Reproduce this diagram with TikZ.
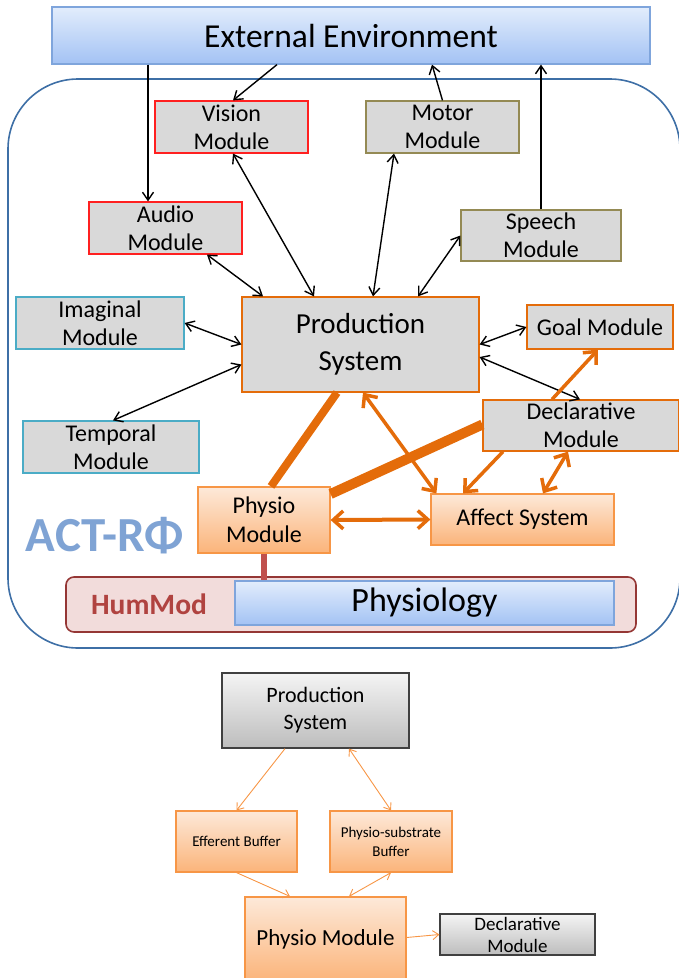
\documentclass[tikz,border=0pt]{standalone}
\usepackage{fontspec}
\setmainfont{Carlito}
\usetikzlibrary{arrows.meta,calc,shadows}
\definecolor{greyfill}{HTML}{D9D9D9}
\definecolor{redb}{HTML}{FF2020}
\definecolor{oliveb}{HTML}{948A54}
\definecolor{cyanb}{HTML}{4BACC6}
\definecolor{orangeb}{HTML}{E46C0A}
\definecolor{lorange}{HTML}{F79646}
\definecolor{peachtop}{HTML}{FDE9D9}
\definecolor{peachbot}{HTML}{FBB47A}
\definecolor{bluetop}{HTML}{E2EDFC}
\definecolor{bluebot}{HTML}{A3C2F4}
\definecolor{blueb}{HTML}{7FA5DC}
\definecolor{frameb}{HTML}{3E6FA6}
\definecolor{humfill}{HTML}{F2DCDB}
\definecolor{humb}{HTML}{953735}
\definecolor{humtext}{HTML}{B04340}
\definecolor{linkred}{HTML}{C0504D}
\definecolor{actblue}{HTML}{7FA3D4}
\definecolor{greytop}{HTML}{F4F4F4}
\definecolor{greybot}{HTML}{BDBDBD}
\definecolor{darkgreyb}{HTML}{404040}
\tikzset{
  box/.style={draw, line width=1.2pt, fill=greyfill, inner sep=0pt, align=center,
    font=\fontsize{24}{28}\selectfont, text=black,
    drop shadow={opacity=0.25, shadow xshift=1.2pt, shadow yshift=-1.2pt}},
  redbox/.style={box, draw=redb},
  olivebox/.style={box, draw=oliveb},
  cyanbox/.style={box, draw=cyanb},
  orbox/.style={box, draw=orangeb},
  peachbox/.style={box, draw=lorange, top color=peachtop, bottom color=peachbot},
  bluebox/.style={box, draw=blueb, top color=bluetop, bottom color=bluebot},
  gradgrey/.style={box, draw=darkgreyb, top color=greytop, bottom color=greybot},
  arr/.style={draw=black, line width=1.4pt, -{Straight Barb[length=8pt,width=11pt,line width=1.4pt]}},
  darr/.style={draw=black, line width=1.4pt, {Straight Barb[length=8pt,width=11pt,line width=1.4pt]}-{Straight Barb[length=8pt,width=11pt,line width=1.4pt]}},
  oarr/.style={draw=orangeb, line width=4pt, -{Straight Barb[length=10pt,width=18pt,line width=3.5pt]}},
  odarr/.style={draw=orangeb, line width=4pt, {Straight Barb[length=10pt,width=18pt,line width=3.5pt]}-{Straight Barb[length=10pt,width=18pt,line width=3.5pt]}},
  othick/.style={draw=orangeb, line width=#1},
  larr/.style={draw=lorange, line width=0.9pt, -{Straight Barb[length=6pt,width=9pt,line width=0.9pt]}},
  ldarr/.style={draw=lorange, line width=0.9pt, {Straight Barb[length=6pt,width=9pt,line width=0.9pt]}-{Straight Barb[length=6pt,width=9pt,line width=0.9pt]}},
}
\begin{document}
\begin{tikzpicture}[x=1pt,y=-1pt]
\useasboundingbox (0,0) rectangle (679,978);
\begin{scope}
\clip (0,0) rectangle (679,978);
% big frame
\node[draw=frameb, line width=1.6pt, rounded corners=70pt, minimum width=672pt, minimum height=569pt, inner sep=0pt] (frame) at (344,363.5) {};
% external environment
\node[bluebox, minimum width=598pt, minimum height=57pt, font=\fontsize{33.5}{38}\selectfont] (ext) at (351,35.5) {External Environment};
% modules
\node[redbox, minimum width=153pt, minimum height=52pt] (vision) at (231.5,127) {Vision\\Module};
\node[olivebox, minimum width=153pt, minimum height=52pt] (motor) at (442.5,127) {Motor\\Module};
\node[redbox, minimum width=153pt, minimum height=52pt] (audio) at (165.5,228) {Audio\\Module};
\node[olivebox, minimum width=160pt, minimum height=51pt] (speech) at (541,235.5) {Speech\\Module};
\node[orbox, minimum width=237pt, minimum height=95pt, font=\fontsize{29}{37}\selectfont] (prod) at (360.5,344.5) {Production\\System};
\node[cyanbox, minimum width=168pt, minimum height=52pt] (imag) at (100,323) {Imaginal\\Module};
\node[cyanbox, minimum width=176pt, minimum height=52pt] (temp) at (111,447) {Temporal\\Module};
\node[orbox, minimum width=146pt, minimum height=44pt] (goal) at (600,327) {Goal Module};
\node[orbox, minimum width=196pt, minimum height=51pt] (decl) at (581,425.5) {Declarative\\Module};
\node[peachbox, minimum width=132pt, minimum height=66pt, font=\fontsize{24}{29}\selectfont] (physio) at (264,520) {Physio\\Module};
\node[peachbox, minimum width=183pt, minimum height=51pt] (affect) at (522.5,519.5) {Affect System};
% HumMod
\node[draw=humb, fill=humfill, line width=1.6pt, rounded corners=8pt, minimum width=570pt, minimum height=55pt, inner sep=0pt] (hummod) at (351,604.5) {};
\node[bluebox, minimum width=379pt, minimum height=44pt, font=\fontsize{34}{38}\selectfont] (physiology) at (424.5,603) {Physiology};
\node[text=humtext, font=\bfseries\fontsize{29.5}{32}\selectfont, inner sep=0pt] (humlabel) at (149,604) {HumMod};
\node[text=actblue, font=\bfseries\fontsize{49}{52}\selectfont, inner sep=0pt] (actr) at (105,536) {ACT-RΦ};
% black arrows
\draw[arr] ([xshift=-203pt]ext.south) -- ([xshift=-17.5pt]audio.north);
\draw[arr] ([xshift=-74pt]ext.south) -- ([xshift=1.5pt]vision.north);
\draw[arr] (motor.north) -- ([xshift=81pt]ext.south);
\draw[arr] (speech.north) -- ([xshift=190pt]ext.south);
\draw[darr] ([xshift=1.5pt]vision.south) -- ([xshift=-46.5pt]prod.north);
\draw[darr] ([xshift=-48.5pt]motor.south) -- ([xshift=12.5pt]prod.north);
\draw[darr] ([xshift=41.5pt]audio.south) -- ([xshift=-97.5pt]prod.north);
\draw[darr] (speech.west) -- ([xshift=57.5pt]prod.north);
\draw[darr] (imag.east) -- (prod.west);
\draw[darr] ([xshift=2pt]temp.north) -- ([yshift=-20pt]prod.west);
\draw[darr] (goal.west) -- (prod.east);
\draw[darr] ([xshift=-1pt]decl.north) -- ([yshift=-12.5pt]prod.east);
% orange connectors
\draw[othick=8pt] ([xshift=7pt]physio.north) -- ([xshift=-23.5pt]prod.south);
\draw[othick=10pt] ([yshift=26pt]physio.east) -- ([yshift=1pt]decl.west);
\draw[odarr, line width=3.5pt] ([xshift=2.5pt]prod.south) -- ([xshift=6pt]affect.north west);
\draw[oarr, line width=3.5pt] ([xshift=-29pt]decl.north) -- ([xshift=-2pt]goal.south);
\draw[oarr, line width=3.5pt] ([xshift=-78pt]decl.south) -- ([xshift=-59.5pt]affect.north);
\draw[odarr, line width=3.5pt] ([xshift=20.5pt]affect.north) -- ([xshift=-13pt]decl.south);
\draw[odarr] (physio.east) -- (affect.west);
\draw[draw=linkred, line width=6pt] (physio.south) -- (physio.south |- physiology.north);
% bottom diagram
\node[gradgrey, minimum width=187pt, minimum height=75pt, font=\fontsize{22}{27}\selectfont] (bprod) at (315.5,710.5) {Production\\System};
\node[peachbox, minimum width=121pt, minimum height=61pt, font=\fontsize{15}{20}\selectfont] (eff) at (236.5,841.5) {Efferent Buffer};
\node[peachbox, minimum width=122pt, minimum height=61pt, font=\fontsize{15}{19}\selectfont] (psub) at (391,841.5) {Physio-substrate\\Buffer};
\node[peachbox, minimum width=161pt, minimum height=84pt, font=\fontsize{23}{26}\selectfont] (bphys) at (325.5,939) {Physio Module};
\node[gradgrey, minimum width=155pt, minimum height=41pt, font=\fontsize{19}{22}\selectfont] (bdecl) at (517.5,934.5) {Declarative\\Module};
\draw[larr] ([xshift=-30.5pt]bprod.south) -- (eff.north);
\draw[ldarr] ([xshift=33.5pt]bprod.south) -- (psub.north);
\draw[larr] (eff.south) -- ([xshift=-35.5pt]bphys.north);
\draw[ldarr] (psub.south) -- ([xshift=23.5pt]bphys.north);
\draw[larr] ([yshift=1.5pt]bphys.east) -- (bdecl.west);
\end{scope}
\end{tikzpicture}
\end{document}
